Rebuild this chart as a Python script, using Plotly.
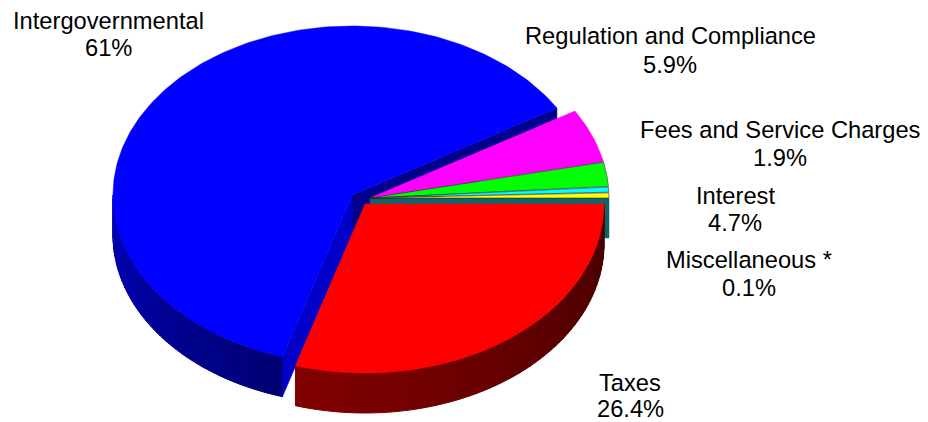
import math
import plotly.graph_objects as go

# Slices, clockwise from the 3 o'clock direction
slice_names = ["Taxes", "Intergovernmental", "Regulation and Compliance",
               "Fees and Service Charges", "Interest", "Miscellaneous *"]
slice_shares = [29.7, 61.7, 5.2, 2.3, 0.55, 0.55]
slice_colors = ["#ff0000", "#0000ff", "#ff00ff", "#00ff00", "#00ffff", "#ffff00"]

# Printed labels
label_names = ["Intergovernmental", "Regulation and Compliance", "Fees and Service Charges",
               "Interest", "Miscellaneous *", "Taxes"]
label_values = ["61%", "5.9%", "1.9%", "4.7%", "0.1%", "26.4%"]

# Layout geometry, in page pixels
RX, RY, DEPTH = 239, 169, 40
CENTERS = {"Taxes": (365, 204), "Intergovernmental": (352, 195)}
DEFAULT_CENTER = (370, 198)
LABEL_POS = [((108, 21), (108, 48)), ((670, 36), (670, 65)), ((780, 130), (780, 158)),
             ((735, 196), (735, 223)), ((749, 260), (749, 288)), ((630, 383), (630, 409))]


def pt(c, t, dz=0):
    a = math.radians(t)
    return c[0] + RX * math.cos(a), c[1] + RY * math.sin(a) + dz


def arc(c, t0, t1, dz=0, n=80):
    return [pt(c, t0 + (t1 - t0) * i / n, dz) for i in range(n + 1)]


fig = go.Figure()


def poly(points, color, line=None, lw=0.5):
    xs = [p[0] for p in points] + [points[0][0]]
    ys = [p[1] for p in points] + [points[0][1]]
    fig.add_trace(go.Scatter(x=xs, y=ys, mode="lines", fill="toself", fillcolor=color,
                             line=dict(color=line or color, width=lw),
                             hoverinfo="skip", showlegend=False))


def mix(a, b, f):
    return "rgb(%d,%d,%d)" % tuple(round(a[i] + (b[i] - a[i]) * f) for i in range(3))


def outer_wall(c, t0, t1, col0, col1, steps=60):
    for i in range(steps):
        a = t0 + (t1 - t0) * i / steps
        b = t0 + (t1 - t0) * (i + 1) / steps
        top = arc(c, a, b, 0, 3)
        bot = arc(c, b, a, DEPTH, 3)
        poly(top + bot, mix(col0, col1, i / (steps - 1)), lw=1)


# slice angle ranges from the shares
ranges = {}
acc = 0.0
for name, share in zip(slice_names, slice_shares):
    ranges[name] = (acc * 3.6, (acc + share) * 3.6)
    acc += share

c_b = CENTERS["Intergovernmental"]
c_r = CENTERS["Taxes"]
b0, b1 = ranges["Intergovernmental"]
r0, r1 = ranges["Taxes"]

# blue radial wall facing the small slices
poly([c_b, pt(c_b, b1), pt(c_b, b1, DEPTH), (c_b[0], c_b[1] + DEPTH)], "#00008c")

# radial wall of the thin slices along the 3 o'clock edge
poly([DEFAULT_CENTER, pt(DEFAULT_CENTER, 0), pt(DEFAULT_CENTER, 0, DEPTH),
      (DEFAULT_CENTER[0], DEFAULT_CENTER[1] + DEPTH)], "#0f6468")

# small slices
for name, color in zip(slice_names[2:], slice_colors[2:]):
    t0, t1 = ranges[name]
    poly([DEFAULT_CENTER] + arc(DEFAULT_CENTER, t0, t1, 0, 24), color,
         line="#301030" if name != slice_names[2] else color, lw=0.5)

# blue body
outer_wall(c_b, 180, b0, (0, 0, 185), (0, 0, 115))
poly([c_b, pt(c_b, b0), pt(c_b, b0, DEPTH), (c_b[0], c_b[1] + DEPTH)], "#0000c8")
poly([c_b] + arc(c_b, b0, b1, 0, 200), "#0000ff")

# red body
outer_wall(c_r, r1, r0, (130, 0, 0), (70, 0, 0))
poly([c_r] + arc(c_r, r0, r1, 0, 100), "#ff0000")

for (name, value, (p1, p2)) in zip(label_names, label_values, LABEL_POS):
    for text, p in ((name, p1), (value, p2)):
        fig.add_annotation(x=p[0], y=p[1], xref="x", yref="y", text=text, showarrow=False,
                           xanchor="center", yanchor="middle",
                           font=dict(family="Liberation Sans", size=23.7, color="#000000"))

# the page body keeps its default 8px margin, so the plot starts at page pixel (8, 8)
fig.update_layout(width=920, height=414, margin=dict(l=0, r=0, t=0, b=0), autosize=False,
                  paper_bgcolor="white", plot_bgcolor="white", showlegend=False,
                  xaxis=dict(range=[8, 928], visible=False, fixedrange=True),
                  yaxis=dict(range=[422, 8], visible=False, fixedrange=True))
fig.write_html("out.html", config={"displayModeBar": False})
